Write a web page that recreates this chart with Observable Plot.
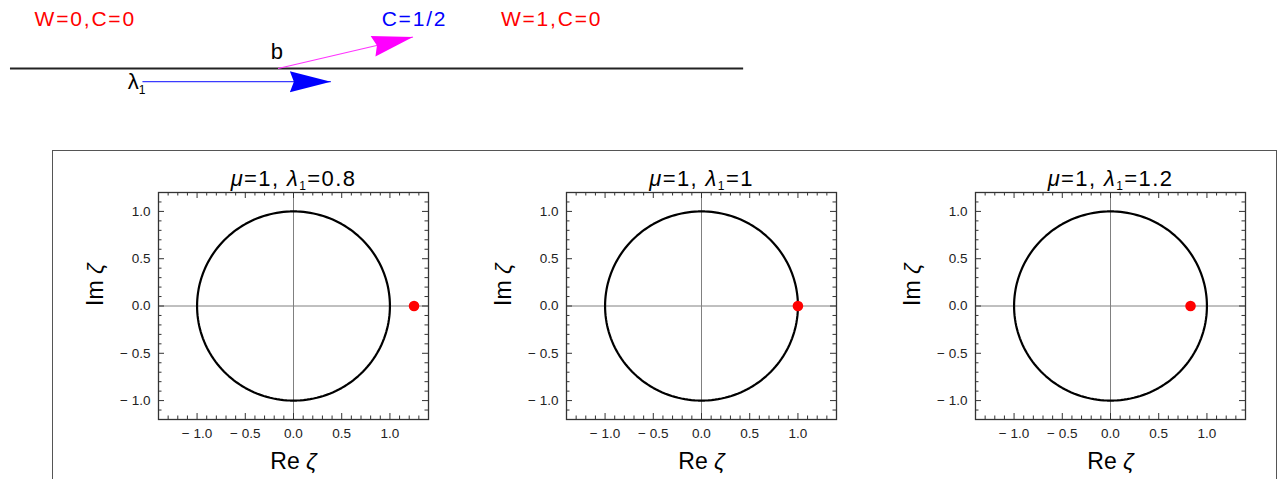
<!DOCTYPE html>
<html>
<head>
<meta charset="utf-8">
<script src="https://cdn.jsdelivr.net/npm/d3@7"></script>
<script src="https://cdn.jsdelivr.net/npm/@observablehq/plot@0.6"></script>
<style>
  html, body { margin: 0; padding: 0; background: #fff; }
  body { position: relative; width: 1280px; height: 479px; overflow: hidden;
         font-family: "Liberation Sans", Arial, sans-serif; }
  #diagram { position: absolute; left: 0; top: 0; }
  #box { position: absolute; left: 52px; top: 150px; width: 1225px; height: 400px;
         border: 1.5px solid #555; box-sizing: border-box; }
  .panel { position: absolute; top: 155px; }
  svg { overflow: visible; }
</style>
</head>
<body>
<div id="diagram"></div>
<div id="box"></div>
<div id="p0" class="panel" style="left:60px"></div>
<div id="p1" class="panel" style="left:468px"></div>
<div id="p2" class="panel" style="left:877px"></div>
<script>
// ---------- schematic: the line, the two arrows and the region labels ----------
const lineX = [0, 10];
const lineY = [0, 0];

const arrowNames  = ["λ_1", "b"];
const arrowX1     = [1.8, 3.65];
const arrowY1     = [-0.18, 0];
const arrowX2     = [4.37, 5.49];
const arrowY2     = [-0.18, 0.43];
const arrowShaft  = ["#3b3bff", "#ff33ff"];
const arrowFill   = ["#0000ff", "#ff00ff"];
const arrowNameX  = [1.6, 3.55];
const arrowNameY  = [-0.19, 0.22];

const regionText   = ["W=0,C=0", "C=1/2", "W=1,C=0"];
const regionX      = [1.02, 5.51, 7.38];
const regionY      = [0.67, 0.67, 0.67];
const regionColors = ["#ff0000", "#0000ff", "#ff0000"];

// ---------- panels: unit circle and the pole on the real axis ----------
const mu      = [1, 1, 1];
const lambda1 = [0.8, 1, 1.2];
const poleRe  = [1.25, 1.0, 0.83];
const poleIm  = [0, 0, 0];
const circleRadius = 1;

const majorTicks = [-1, -0.5, 0, 0.5, 1];
const xTickText  = ["− 1.0", "− 0.5", "0.0", "0.5", "1.0"];
const yTickText  = ["− 1.0", "− 0.5", "0.0", "0.5", "1.0"];
const xDomain = [-1.4, 1.4];
const yDomain = [-1.2, 1.2];
const xLabel = "Re ζ";
const yLabel = "Im ζ";

const FONT = '"Liberation Sans", Arial, sans-serif';

// Turn "λ_1" into a subscript and optionally italicise the Greek letters.
function richText(svg, italicGreek) {
  svg.querySelectorAll("text").forEach((t) => {
    const s = t.textContent;
    if (!/[_μλζ]/.test(s)) return;
    const fs = parseFloat(getComputedStyle(t).fontSize) || 16;
    const shift = 0.28 * fs;
    t.textContent = "";
    const re = /([μλζ])|_(\d)|([^μλζ_]+)/g;
    let m, lowered = false;
    const ns = "http://www.w3.org/2000/svg";
    while ((m = re.exec(s))) {
      const sp = document.createElementNS(ns, "tspan");
      if (m[2]) {
        sp.textContent = m[2];
        sp.setAttribute("font-size", (0.75 * fs).toFixed(1));
        sp.setAttribute("dy", shift.toFixed(1));
        lowered = true;
      } else {
        sp.textContent = m[1] || m[3];
        if (lowered) { sp.setAttribute("dy", (-shift).toFixed(1)); lowered = false; }
        if (m[1] && italicGreek) sp.setAttribute("font-style", "italic");
      }
      t.appendChild(sp);
    }
  });
}

// Letter spacing for texts whose content matches one of the given strings.
function spaceLetters(svg, texts, px) {
  svg.querySelectorAll("text").forEach((t) => {
    if (texts.some((s) => t.textContent.replace(/_/g, "") === s.replace(/_/g, ""))) t.style.letterSpacing = px + "px";
  });
}

// Filled arrowhead with a slight notch; tip sits at the anchor point.
const arrowHead = {
  draw(context) {
    const L = 41, w = 10.5, n = 4;
    context.moveTo(0, 0);
    context.lineTo(-L, -w);
    context.lineTo(-L + n, 0);
    context.lineTo(-L, w);
    context.closePath();
  }
};

const arrows = arrowNames.map((name, i) => ({
  name, x1: arrowX1[i], y1: arrowY1[i], x2: arrowX2[i], y2: arrowY2[i],
  shaft: arrowShaft[i], fill: arrowFill[i], lx: arrowNameX[i], ly: arrowNameY[i],
  angle: Math.atan2(-(arrowY2[i] - arrowY1[i]), arrowX2[i] - arrowX1[i]) * 180 / Math.PI
}));
const regions = regionText.map((text, i) => ({text, x: regionX[i], y: regionY[i], color: regionColors[i]}));

const diagram = Plot.plot({
  width: 760, height: 110,
  margin: 0,
  x: {domain: [-0.136, 10.23], axis: null},
  y: {domain: [-0.573, 0.928], axis: null},
  style: {fontFamily: FONT, background: "transparent"},
  marks: [
    Plot.ruleY([lineY[0]], {x1: lineX[0], x2: lineX[1], stroke: "#222", strokeWidth: 1.8}),
    Plot.link(arrows, {x1: "x1", y1: "y1", x2: "x2", y2: "y2", stroke: "shaft", strokeWidth: 1.2}),
    Plot.dot(arrows, {x: "x2", y: "y2", symbol: arrowHead, fill: "fill", stroke: "none", rotate: "angle"}),
    Plot.text(arrows, {x: "lx", y: "ly", text: "name", textAnchor: "start", fontSize: 22, fill: "#000"}),
    Plot.text(regions, {x: "x", y: "y", text: "text", fill: "color", fontSize: 21})
  ]
});
spaceLetters(diagram, regionText, 1.8);
richText(diagram, false);
document.getElementById("diagram").appendChild(diagram);

// ---------- the three panels ----------
const ML = 98, MR = 10, MT = 37, MB = 62, FW = 270, FH = 227;
// the unit circle |ζ| = 1
const circle = d3.range(0, 361, 2).map((a) => ({
  re: circleRadius * Math.cos(a * Math.PI / 180),
  im: circleRadius * Math.sin(a * Math.PI / 180)
}));
const minorTicks = d3.range(-14, 15).map((k) => k / 10).filter((v) => Math.abs(v * 2 - Math.round(v * 2)) > 1e-9);
const minorTicksY = minorTicks.filter((v) => Math.abs(v) <= 1.2);
const xTicks = majorTicks.map((v, i) => ({v, label: xTickText[i]}));
const yTicks = majorTicks.map((v, i) => ({v, label: yTickText[i]}));

function panel(i) {
  const tickColor = "#333";
  const title = `μ=${mu[i]}, λ_1=${lambda1[i]}`;
  const svg = Plot.plot({
    width: ML + FW + MR, height: MT + FH + MB,
    marginLeft: ML, marginRight: MR, marginTop: MT, marginBottom: MB,
    x: {domain: xDomain, axis: null},
    y: {domain: yDomain, axis: null},
    style: {fontFamily: FONT, background: "transparent", overflow: "visible"},
    marks: [
      Plot.ruleX([0], {stroke: "#808080", strokeWidth: 1}),
      Plot.ruleY([0], {stroke: "#808080", strokeWidth: 1}),
      Plot.line(circle, {x: "re", y: "im", stroke: "#000", strokeWidth: 2.2}),
      Plot.dot([{re: poleRe[i], im: poleIm[i]}], {x: "re", y: "im", r: 5.3, fill: "#ff0000", stroke: "none"}),
      Plot.frame({stroke: "#333", strokeWidth: 1.3}),
      // inward frame ticks on all four sides
      Plot.tickX(majorTicks, {x: (d) => d, insetTop: FH - 6, stroke: tickColor}),
      Plot.tickX(majorTicks, {x: (d) => d, insetBottom: FH - 6, stroke: tickColor}),
      Plot.tickX(minorTicks, {x: (d) => d, insetTop: FH - 3.5, stroke: tickColor}),
      Plot.tickX(minorTicks, {x: (d) => d, insetBottom: FH - 3.5, stroke: tickColor}),
      Plot.tickY(majorTicks, {y: (d) => d, insetRight: FW - 6, stroke: tickColor}),
      Plot.tickY(majorTicks, {y: (d) => d, insetLeft: FW - 6, stroke: tickColor}),
      Plot.tickY(minorTicksY, {y: (d) => d, insetRight: FW - 3.5, stroke: tickColor}),
      Plot.tickY(minorTicksY, {y: (d) => d, insetLeft: FW - 3.5, stroke: tickColor}),
      // tick labels
      Plot.text(xTicks, {x: "v", text: "label", frameAnchor: "bottom", lineAnchor: "top", dy: 9, fontSize: 13.5, fill: "#222"}),
      Plot.text(yTicks, {y: "v", text: "label", frameAnchor: "left", textAnchor: "end", dx: -8, fontSize: 13.5, fill: "#222"}),
      // axis labels and title
      Plot.text([xLabel], {frameAnchor: "bottom", lineAnchor: "middle", dy: 42, fontSize: 23, fill: "#000"}),
      Plot.text([yLabel], {frameAnchor: "left", rotate: -90, lineAnchor: "middle", dx: -63, fontSize: 23, fill: "#000"}),
      Plot.text([title], {frameAnchor: "top", lineAnchor: "bottom", dy: -7, fontSize: 22, fill: "#000"})
    ]
  });
  spaceLetters(svg, [title], 1.4);
  richText(svg, true);
  return svg;
}

for (let i = 0; i < 3; i++) {
  document.getElementById("p" + i).appendChild(panel(i));
}
</script>
</body>
</html>
